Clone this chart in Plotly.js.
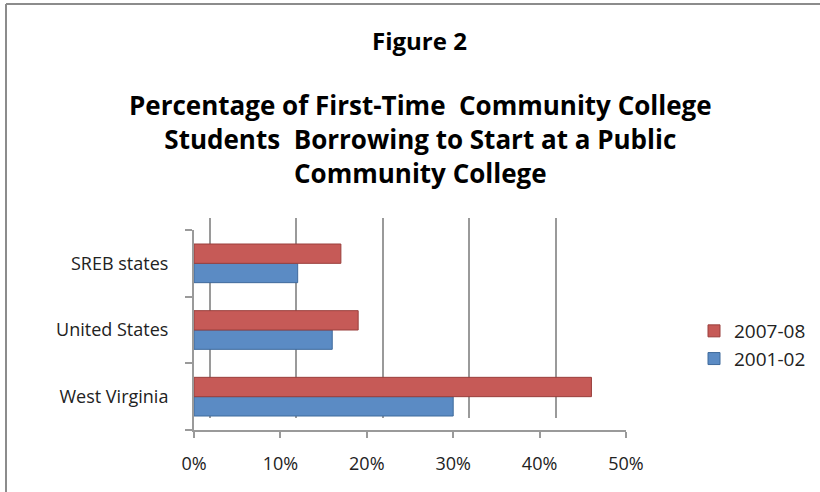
<!DOCTYPE html>
<html>
<head>
<meta charset="utf-8">
<script src="https://cdn.plot.ly/plotly-3.0.1.min.js"></script>
<style>html,body{margin:0;padding:0;background:#fff;}#chart{width:820px;height:492px;}</style>
</head>
<body>
<div id="chart"></div>
<script>
const categories = ["West Virginia", "United States", "SREB states"];
const series2001 = [30, 16, 12];
const series2008 = [46, 19, 17];
const seriesNames = ["2001-02", "2007-08"];
const xTickVals = [0, 10, 20, 30, 40, 50];
const xTickText = ["0%", "10%", "20%", "30%", "40%", "50%"];

const FONT = "'Open Sans', Lato, sans-serif";

const traces = [
  {type: "bar", orientation: "h", x: [], y: [], xaxis: "x", yaxis: "y", showlegend: false, hoverinfo: "skip"},
  {type: "bar", orientation: "h", name: seriesNames[0], x: series2001, y: categories,
   xaxis: "x2", yaxis: "y2", legendgroup: "a",
   marker: {color: "#5B8BC4", line: {color: "#3F6A9C", width: 1}}},
  {type: "bar", orientation: "h", name: seriesNames[1], x: series2008, y: categories,
   xaxis: "x2", yaxis: "y2", legendgroup: "b",
   marker: {color: "#C65A57", line: {color: "#9A3F3C", width: 1}}}
];

const layout = {
  width: 820, height: 492,
  margin: {l: 0, r: 0, t: 0, b: 0},
  paper_bgcolor: "#fff", plot_bgcolor: "rgba(0,0,0,0)",
  font: {family: FONT, color: "#000"},
  annotations: [
    {text: "<b>Figure 2</b>", xref: "paper", yref: "paper", x: 419/820, y: 1 - 40/492,
     xanchor: "center", yanchor: "middle", showarrow: false,
     font: {family: FONT, size: 24, color: "#000"}},
    {text: "<b>Percentage of First-Time  Community College<br>Students  Borrowing to Start at a Public<br>Community College</b>",
     xref: "paper", yref: "paper", x: 420/820, y: 1 - 139/492,
     xanchor: "center", yanchor: "middle", showarrow: false, align: "center",
     font: {family: FONT, size: 26, color: "#000"}}
  ],
  barmode: "group", bargap: 0.42, bargroupgap: 0,
  showlegend: true,
  legend: {x: 694/820, y: 1 - 345/492, xanchor: "left", yanchor: "middle",
           traceorder: "reversed", font: {family: FONT, size: 19, color: "#222"},
           itemwidth: 30, tracegroupgap: 16, bgcolor: "rgba(0,0,0,0)"},
  xaxis: {domain: [210/820, 642/820], range: [0, 50], anchor: "y",
          showgrid: true, gridcolor: "#9a9a9a", gridwidth: 2,
          tickvals: xTickVals, showticklabels: false, ticks: "",
          zeroline: true, zerolinecolor: "#9a9a9a", zerolinewidth: 2,
          showline: false, fixedrange: true},
  yaxis: {domain: [74/492, 274/492], anchor: "x", showgrid: false, zeroline: false,
          showticklabels: false, ticks: "", showline: false, range: [0, 1]},
  xaxis2: {domain: [194/820, 626/820], range: [0, 50], anchor: "y2",
           tickvals: xTickVals, ticktext: xTickText,
           showgrid: false, zeroline: false,
           showline: true, linecolor: "#9a9a9a", linewidth: 2,
           ticks: "outside", ticklen: 6, tickcolor: "#9a9a9a", tickwidth: 2,
           ticklabelstandoff: 10,
           tickfont: {family: FONT, size: 18, color: "#222"}},
  yaxis2: {domain: [62/492, 262/492], anchor: "x2", type: "category",
           showgrid: false, zeroline: false, tickson: "boundaries",
           showline: true, linecolor: "#9a9a9a", linewidth: 2,
           ticks: "outside", ticklen: 7, tickcolor: "#9a9a9a", tickwidth: 2,
           ticklabelstandoff: 20,
           tickfont: {family: FONT, size: 18, color: "#222"}},
  shapes: [
    {type: "line", xref: "paper", yref: "paper", x0: 6/820, x1: 6/820, y0: 0, y1: 1 - 4/492,
     line: {color: "#8c8c8c", width: 2}},
    {type: "line", xref: "paper", yref: "paper", x0: 6/820, x1: 1, y0: 1 - 4/492, y1: 1 - 4/492,
     line: {color: "#8c8c8c", width: 2}}
  ]
};

Plotly.newPlot("chart", traces, layout, {displayModeBar: false, staticPlot: true});
</script>
</body>
</html>
